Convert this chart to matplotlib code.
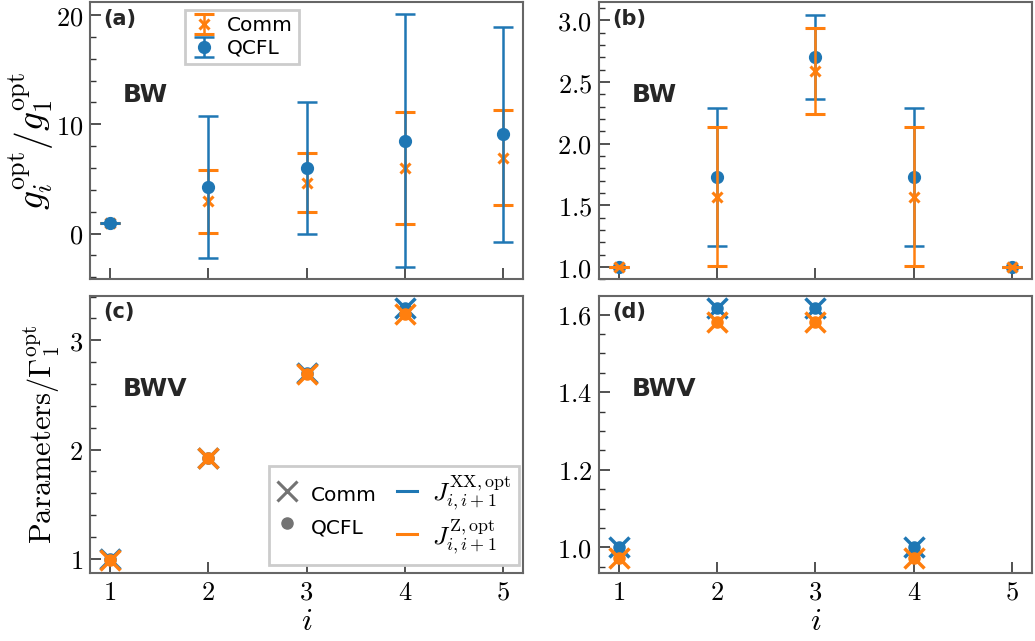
import numpy as np
import matplotlib
matplotlib.use("Agg")
import matplotlib.pyplot as plt
from matplotlib.ticker import MultipleLocator, StrMethodFormatter
from matplotlib.lines import Line2D

plt.rcParams['mathtext.fontset'] = 'cm'
plt.rcParams['font.family'] = ['DejaVu Sans']
plt.rcParams['axes.unicode_minus'] = False

BLUE = '#1f77b4'
ORANGE = '#ff7f0e'

# ---- data ----
sites = [1, 2, 3, 4, 5]
# (a) BW, large
a_qcfl = [1.0, 4.3, 6.0, 8.5, 9.1]
a_qcfl_err = [0.0, 6.5, 6.05, 11.6, 9.85]
a_comm = [1.0, 2.95, 4.65, 6.0, 6.95]
a_comm_err = [0.0, 2.87, 2.7, 5.1, 4.35]
# (b) BW, small
b_qcfl = [1.0, 1.73, 2.70, 1.73, 1.0]
b_qcfl_err = [0.0, 0.56, 0.34, 0.56, 0.0]
b_comm = [1.0, 1.57, 2.59, 1.57, 1.0]
b_comm_err = [0.0, 0.565, 0.345, 0.565, 0.0]
# (c) BWV large
links = [1, 2, 3, 4]
c_xx_comm = [1.0, 1.925, 2.70, 3.30]
c_xx_qcfl = [1.0, 1.925, 2.70, 3.30]
c_z_comm = [0.99, 1.92, 2.695, 3.245]
c_z_qcfl = [0.99, 1.92, 2.695, 3.245]
# (d) BWV small
d_xx_comm = [1.0, 1.618, 1.618, 1.0]
d_xx_qcfl = [1.0, 1.618, 1.618, 1.0]
d_z_comm = [0.973, 1.581, 1.581, 0.973]
d_z_qcfl = [0.973, 1.581, 1.581, 0.973]

fig, axes = plt.subplots(2, 2, figsize=(10.35, 6.41), dpi=100, sharex=True)
fig.subplots_adjust(left=0.087, right=0.997, top=0.997, bottom=0.106,
                    hspace=0.058, wspace=0.175)
(axa, axb), (axc, axd) = axes

eb_kw = dict(linestyle='none', capsize=7, elinewidth=1.8, capthick=1.8)

# (a)
axa.errorbar(sites, a_comm, yerr=a_comm_err, color=ORANGE, marker='x', ms=7, mew=2.2,
             label='Comm', zorder=2, **eb_kw)
axa.errorbar(sites, a_qcfl, yerr=a_qcfl_err, color=BLUE, marker='o', ms=8.5,
             label='QCFL', zorder=3, **eb_kw)
# (b)
axb.errorbar(sites, b_qcfl, yerr=b_qcfl_err, color=BLUE, marker='o', ms=8.5,
             label='QCFL', zorder=2, **eb_kw)
axb.errorbar(sites, b_comm, yerr=b_comm_err, color=ORANGE, marker='x', ms=7, mew=2.2,
             label='Comm', zorder=3, **eb_kw)

# (c), (d)
for ax, xc, xq, zc, zq in [(axc, c_xx_comm, c_xx_qcfl, c_z_comm, c_z_qcfl),
                           (axd, d_xx_comm, d_xx_qcfl, d_z_comm, d_z_qcfl)]:
    ax.plot(links, xc, linestyle='none', marker='x', ms=14, mew=2.5, color=BLUE, zorder=2)
    ax.plot(links, xq, linestyle='none', marker='o', ms=8, color=BLUE, zorder=3)
    ax.plot(links, zc, linestyle='none', marker='x', ms=14, mew=2.5, color=ORANGE, zorder=4)
    ax.plot(links, zq, linestyle='none', marker='o', ms=8, color=ORANGE, zorder=5)

# limits & ticks
axa.set_xlim(0.8, 5.2)
axa.set_xticks(sites)
axa.set_ylim(-4.2, 21.2)
axa.yaxis.set_major_locator(MultipleLocator(10))
axa.yaxis.set_minor_locator(MultipleLocator(2))
axa.yaxis.set_major_formatter(StrMethodFormatter('${x:.0f}$'))

axb.set_ylim(0.9, 3.15)
axb.yaxis.set_major_locator(MultipleLocator(0.5))
axb.yaxis.set_minor_locator(MultipleLocator(0.1))
axb.yaxis.set_major_formatter(StrMethodFormatter('${x:.1f}$'))

axc.set_ylim(0.87, 3.41)
axc.yaxis.set_major_locator(MultipleLocator(1))
axc.yaxis.set_minor_locator(MultipleLocator(0.2))
axc.yaxis.set_major_formatter(StrMethodFormatter('${x:.0f}$'))

axd.set_ylim(0.934, 1.649)
axd.yaxis.set_major_locator(MultipleLocator(0.2))
axd.yaxis.set_minor_locator(MultipleLocator(0.05))
axd.yaxis.set_major_formatter(StrMethodFormatter('${x:.1f}$'))

for ax in (axc, axd):
    ax.xaxis.set_major_formatter(StrMethodFormatter('${x:.0f}$'))
    ax.set_xlabel('$i$', fontsize=23, labelpad=0)

for ax in axes.flat:
    ax.tick_params(which='both', direction='in', labelsize=19, color='0.2')
    ax.tick_params(which='major', length=8, width=1.2, pad=5)
    ax.tick_params(which='minor', length=4, width=1.0)
    for s in ax.spines.values():
        s.set_color('0.4')
        s.set_linewidth(1.5)

axa.set_ylabel(r'$g_i^{\rm opt}/g_1^{\rm opt}$', fontsize=27, labelpad=0)
axc.set_ylabel(r'$\mathrm{Parameters}/\Gamma_1^{\rm opt}$', fontsize=22, labelpad=5)

# panel labels
for ax, lab in zip(axes.flat, ['(a)', '(b)', '(c)', '(d)']):
    ax.text(0.03, 0.975, lab, transform=ax.transAxes, ha='left', va='top',
            fontsize=15, fontweight='bold', color='0.15')
for ax, lab in [(axa, 'BW'), (axb, 'BW'), (axc, 'BWV'), (axd, 'BWV')]:
    ax.text(0.075, 0.665, lab, transform=ax.transAxes, ha='left', va='center',
            fontsize=18, fontweight='bold', color='0.15')

# legends
leg = axa.legend(loc='upper left', bbox_to_anchor=(0.219, 0.972), borderaxespad=0,
                 fontsize=14.5, fancybox=False, framealpha=1, handlelength=1.3,
                 handletextpad=0.5, borderpad=0.3, labelspacing=0.2)
leg.get_frame().set_edgecolor('0.8')
leg.get_frame().set_linewidth(2)

handles = [Line2D([], [], ls='none', marker='x', ms=14, mew=2.2, color='0.45'),
           Line2D([], [], ls='none', marker='o', ms=8, color='0.45'),
           Line2D([], [], color=BLUE, lw=2.2),
           Line2D([], [], color=ORANGE, lw=2.2)]
labels = ['Comm', 'QCFL', r'$J_{i,i+1}^{\mathrm{XX,opt}}$', r'$J_{i,i+1}^{\mathrm{Z,opt}}$']
leg2 = axc.legend(handles, labels, ncol=2, loc='lower right', bbox_to_anchor=(0.99, 0.03),
                  borderaxespad=0, fontsize=14.5, fancybox=False, framealpha=1,
                  handlelength=1.0, handleheight=1.8, handletextpad=0.7, columnspacing=1.0,
                  borderpad=0.4, labelspacing=0.2)
for t in leg2.get_texts()[2:]:
    t.set_fontsize(18.5)
leg2.get_frame().set_edgecolor('0.8')
leg2.get_frame().set_linewidth(2)

fig.savefig('out.png', dpi=100)
